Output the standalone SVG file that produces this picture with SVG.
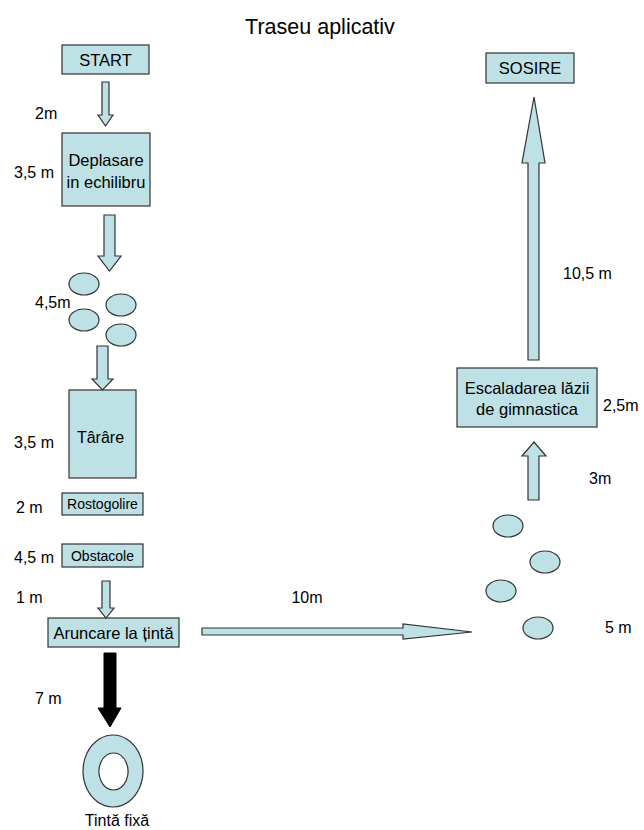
<svg xmlns="http://www.w3.org/2000/svg" width="644" height="830" viewBox="0 0 644 830">
<style>
.n{fill:#bde1e4;stroke:#333;stroke-width:1.2}
.t{font-family:"Liberation Sans",Arial,sans-serif;fill:#000}
.a{fill:#bde1e4;stroke:#333;stroke-width:1.2;stroke-linejoin:miter}
</style>
<rect width="644" height="830" fill="#fff"/>
<text class="t" x="320" y="34" font-size="21.5" text-anchor="middle">Traseu aplicativ</text>

<g id="start"><rect class="n" x="62" y="45" width="87" height="29"/><text class="t" x="105.5" y="66" font-size="16.5" text-anchor="middle">START</text></g>
<g id="deplasare"><rect class="n" x="62" y="133" width="88" height="73"/><text class="t" x="106" y="166" font-size="16.5" text-anchor="middle">Deplasare</text><text class="t" x="106" y="188" font-size="16.5" text-anchor="middle">in echilibru</text></g>
<g id="pietre1">
<ellipse class="n" cx="84" cy="284" rx="15" ry="11"/>
<ellipse class="n" cx="121" cy="305" rx="15" ry="11"/>
<ellipse class="n" cx="84" cy="320" rx="15" ry="11"/>
<ellipse class="n" cx="121" cy="335" rx="15" ry="11"/>
</g>
<g id="tarare"><rect class="n" x="69" y="390" width="67" height="88"/><text class="t" x="100.5" y="443" font-size="16" text-anchor="middle">Târâre</text></g>
<g id="rostogolire"><rect class="n" x="62" y="493" width="81" height="22"/><text class="t" x="102.5" y="509" font-size="14" text-anchor="middle">Rostogolire</text></g>
<g id="obstacole"><rect class="n" x="62" y="544" width="81" height="23"/><text class="t" x="102.5" y="561" font-size="14" text-anchor="middle">Obstacole</text></g>
<g id="aruncare"><rect class="n" x="48" y="618" width="131" height="29"/><text class="t" x="113.5" y="639" font-size="16.5" text-anchor="middle">Aruncare la țintă</text></g>
<g id="tinta">
<path d="M113,735 a30,36 0 1,0 0.01,0 Z M113.5,753 a14.5,18.5 0 1,1 -0.01,0 Z" fill="#bde1e4" fill-rule="evenodd" stroke="#333" stroke-width="1.2"/>
<text class="t" x="117" y="826" font-size="16" text-anchor="middle">Tintă fixă</text>
</g>
<g id="pietre2">
<ellipse class="n" cx="508" cy="526" rx="15" ry="11"/>
<ellipse class="n" cx="545" cy="562" rx="15" ry="11"/>
<ellipse class="n" cx="501" cy="591" rx="15" ry="11"/>
<ellipse class="n" cx="538" cy="628" rx="15" ry="11"/>
</g>
<g id="escaladare"><rect class="n" x="457" y="368" width="140" height="59"/><text class="t" x="527" y="394" font-size="16.5" text-anchor="middle">Escaladarea lăzii</text><text class="t" x="527" y="415" font-size="16.5" text-anchor="middle">de gimnastica</text></g>
<g id="sosire"><rect class="n" x="486" y="53" width="88" height="30"/><text class="t" x="530" y="74" font-size="16.5" text-anchor="middle">SOSIRE</text></g>

<g id="connectors">
<polygon class="a" points="102,82 109,82 109,115 113,115 105.5,126 98,115 102,115"/>
<polygon class="a" points="104,215 115,215 115,256 121,256 109.5,271 98,256 104,256"/>
<polygon class="a" points="97,346 108,346 108,379 113,379 102.5,390 92,379 97,379"/>
<polygon class="a" points="102,581 110,581 110,608 114,608 106,618 98,608 102,608"/>
<polygon fill="#000" stroke="#000" stroke-width="1" points="104,653 116,653 116,708 121,708 110,727 98,708 104,708"/>
<polygon class="a" points="202,628 403,628 403,624 472,632 403,639 403,635 202,635"/>
<polygon class="a" points="528,360 539,360 539,163 545,163 534,97 522,163 528,163"/>
<polygon class="a" points="528,500 539,500 539,456 546,456 534,442 522,456 528,456"/>
</g>

<g id="labels" font-size="16">
<text class="t" x="35" y="119">2m</text>
<text class="t" x="14" y="178">3,5 m</text>
<text class="t" x="35" y="308">4,5m</text>
<text class="t" x="14" y="448">3,5 m</text>
<text class="t" x="16" y="513">2 m</text>
<text class="t" x="14" y="563">4,5 m</text>
<text class="t" x="16" y="603">1 m</text>
<text class="t" x="35" y="704">7 m</text>
<text class="t" x="307" y="603" text-anchor="middle">10m</text>
<text class="t" x="563" y="279">10,5 m</text>
<text class="t" x="603" y="411">2,5m</text>
<text class="t" x="589" y="484">3m</text>
<text class="t" x="605" y="633">5 m</text>
</g>
</svg>
